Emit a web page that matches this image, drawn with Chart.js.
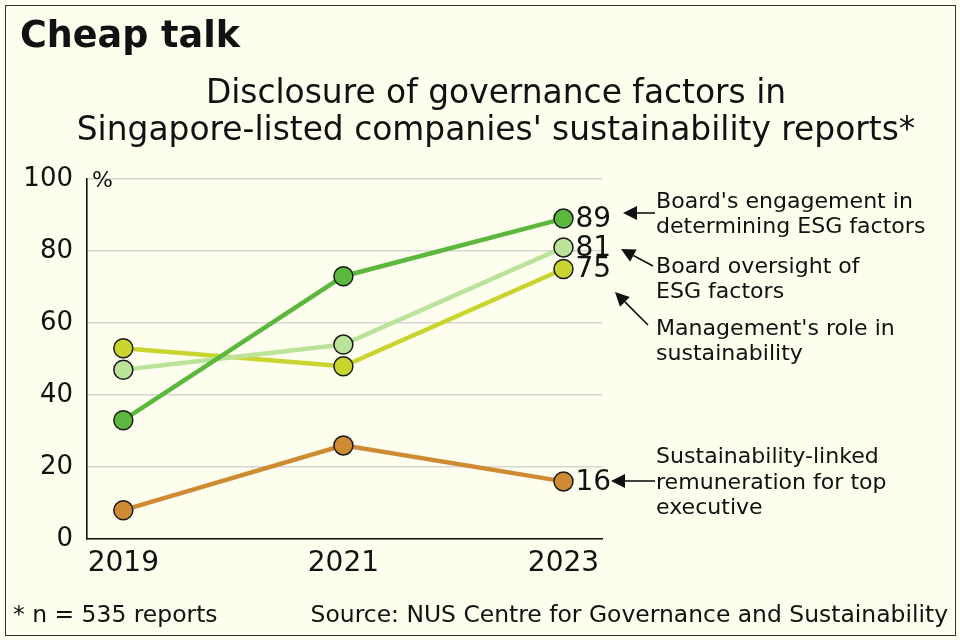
<!DOCTYPE html>
<html>
<head>
<meta charset="utf-8">
<script src="https://cdn.jsdelivr.net/npm/chart.js@4.4.1/dist/chart.umd.min.js"></script>
<style>
html,body{margin:0;padding:0;background:#fefeee;}
#wrap{position:relative;width:960px;height:640px;overflow:hidden;background:#fefeee;font-family:"DejaVu Sans",sans-serif;color:#111;}
#frame{position:absolute;left:5px;top:5px;width:951px;height:631px;border:1.5px solid #333;box-sizing:border-box;pointer-events:none;}
.t{position:absolute;left:0;top:0;white-space:nowrap;line-height:1.2;}
.bl{display:inline-block;width:0;height:0;vertical-align:baseline;}
#c{position:absolute;left:0;top:0;}
</style>
</head>
<body>
<div id="wrap">
  <canvas id="c" width="960" height="640"></canvas>
  <div id="texts"></div>
  <div id="frame"></div>
</div>
<script>
// ---- data ----
const years = [2019, 2021, 2023];
const engagement = [33, 73, 89];
const oversight = [47, 54, 81];
const management = [53, 48, 75];
const remuneration = [8, 26, 16];
const seriesNames = [
  "Board's engagement in determining ESG factors",
  "Board oversight of ESG factors",
  "Management's role in sustainability",
  "Sustainability-linked remuneration for top executive"
];
const yTicks = [0, 20, 40, 60, 80, 100];

const titleText = "Cheap talk";
const subtitleLines = ["Disclosure of governance factors in", "Singapore-listed companies' sustainability reports*"];
const noteText = "* n = 535 reports";
const sourceText = "Source: NUS Centre for Governance and Sustainability";
const annoLines = [
  ["Board's engagement in", "determining ESG factors"],
  ["Board oversight of", "ESG factors"],
  ["Management's role in", "sustainability"],
  ["Sustainability-linked", "remuneration for top", "executive"]
];

// ---- style ----
const colors = ['#5cb83c', '#bce39a', '#c9d52e', '#cf8a34'];
const FONT = '"DejaVu Sans", sans-serif';

const texts = document.getElementById('texts');
function makeText(str, weight){
  const d = document.createElement('div');
  d.className = 't';
  d.style.fontWeight = weight || 'normal';
  d.textContent = str;
  const m = document.createElement('span');
  m.className = 'bl';
  d.appendChild(m);
  texts.appendChild(d);
  return d;
}
function fitSize(str, weight, target){
  const d = makeText(str, weight);
  d.style.fontSize = '20px';
  const w = d.getBoundingClientRect().width;
  d.remove();
  return 20 * target / w;
}
function place(str, weight, size, anchor, x, baseline){
  const d = makeText(str, weight);
  d.style.fontSize = size + 'px';
  const w = d.getBoundingClientRect().width;
  const b = d.lastChild.offsetTop;
  let left = x;
  if (anchor === 'center') left = x - w/2;
  if (anchor === 'right') left = x - w;
  d.style.left = left + 'px';
  d.style.top = (baseline - b) + 'px';
}

function buildTexts(){
  const ts = fitSize(titleText, 'bold', 220);
  place(titleText, 'bold', ts, 'left', 20, 47);
  const ss = fitSize(subtitleLines[1], 'normal', 839);
  place(subtitleLines[0], 'normal', ss, 'center', 496, 103);
  place(subtitleLines[1], 'normal', ss, 'center', 496, 140);
  const fs = fitSize(sourceText, 'normal', 638);
  place(noteText, 'normal', fs, 'left', 13, 622);
  place(sourceText, 'normal', fs, 'right', 948, 622);
  const as = fitSize(annoLines[0][0], 'normal', 257);
  const annoBase = [[208, 233], [273, 298], [335, 360], [463, 489, 514]];
  annoLines.forEach((g, gi) => g.forEach((ln, li) => place(ln, 'normal', as, 'left', 656, annoBase[gi][li])));
}

// arrows: [fromX, fromY, toX, toY] (annotation layout)
const arrows = [
  [655, 213, 623, 213],
  [653, 266, 621, 249],
  [648, 325, 615, 292],
  [655, 481, 611, 481]
];

const overlay = {
  id: 'overlay',
  afterDraw(chart){
    const ctx = chart.ctx;
    const ca = chart.chartArea;
    ctx.save();
    // % unit
    ctx.fillStyle = '#111';
    ctx.font = '22px ' + FONT;
    ctx.textAlign = 'left';
    ctx.textBaseline = 'middle';
    ctx.fillText('%', ca.left + 5, ca.top + 2);
    // end value labels
    ctx.font = '28px ' + FONT;
    chart.data.datasets.forEach((ds, i) => {
      const meta = chart.getDatasetMeta(i);
      const last = meta.data[meta.data.length - 1];
      const v = ds.data[ds.data.length - 1].y;
      ctx.fillText(String(v), last.x + 12, last.y + 1);
    });
    // arrows
    ctx.strokeStyle = '#111';
    ctx.fillStyle = '#111';
    ctx.lineWidth = 1.6;
    arrows.forEach(([x1, y1, x2, y2]) => {
      const ang = Math.atan2(y2 - y1, x2 - x1);
      const hl = 14, hw = 7;
      const bx = x2 - hl * Math.cos(ang), by = y2 - hl * Math.sin(ang);
      ctx.beginPath();
      ctx.moveTo(x1, y1);
      ctx.lineTo(bx, by);
      ctx.stroke();
      ctx.beginPath();
      ctx.moveTo(x2, y2);
      ctx.lineTo(bx + hw * Math.sin(ang), by - hw * Math.cos(ang));
      ctx.lineTo(bx - hw * Math.sin(ang), by + hw * Math.cos(ang));
      ctx.closePath();
      ctx.fill();
    });
    ctx.restore();
  }
};

function toPoints(arr){ return years.map((y, i) => ({x: y, y: arr[i]})); }
const seriesValues = [engagement, oversight, management, remuneration];

function buildChart(){
  Chart.defaults.font.family = FONT;
  Chart.defaults.color = '#111';
  new Chart(document.getElementById('c'), {
    type: 'line',
    data: {
      datasets: seriesValues.map((vals, i) => ({
        label: seriesNames[i],
        data: toPoints(vals),
        borderColor: colors[i],
        backgroundColor: colors[i],
        pointBackgroundColor: colors[i],
        pointBorderColor: '#1a1a1a',
        pointBorderWidth: 1.5,
        pointRadius: 9.5,
        borderWidth: 4.5,
        tension: 0,
        clip: false
      }))
    },
    options: {
      responsive: false,
      animation: false,
      devicePixelRatio: 1,
      layout: {padding: {top: 179, right: 358, left: 0, bottom: 0}},
      plugins: {legend: {display: false}, tooltip: {enabled: false}, title: {display: false}},
      scales: {
        x: {
          type: 'linear',
          min: 2018.67,
          max: 2023.35,
          afterBuildTicks(scale){ scale.ticks = years.map(v => ({value: v})); },
          afterFit(scale){ scale.height = 101; },
          grid: {display: false, drawTicks: false},
          border: {display: true, color: '#111', width: 1.6},
          ticks: {font: {size: 28}, color: '#111', padding: 8, callback: v => String(v), maxRotation: 0, autoSkip: false}
        },
        y: {
          min: 0,
          max: 100,
          afterBuildTicks(scale){ scale.ticks = yTicks.map(v => ({value: v})); },
          afterFit(scale){ scale.width = 87; },
          grid: {color: '#d6d6d2', lineWidth: 1.5, drawTicks: false},
          border: {display: true, color: '#111', width: 1.6},
          ticks: {font: {size: 26}, color: '#111', padding: 14}
        }
      }
    },
    plugins: [overlay]
  });
}

const start = () => { buildTexts(); buildChart(); };
if (document.fonts && document.fonts.ready) document.fonts.ready.then(start); else start();
</script>
</body>
</html>
